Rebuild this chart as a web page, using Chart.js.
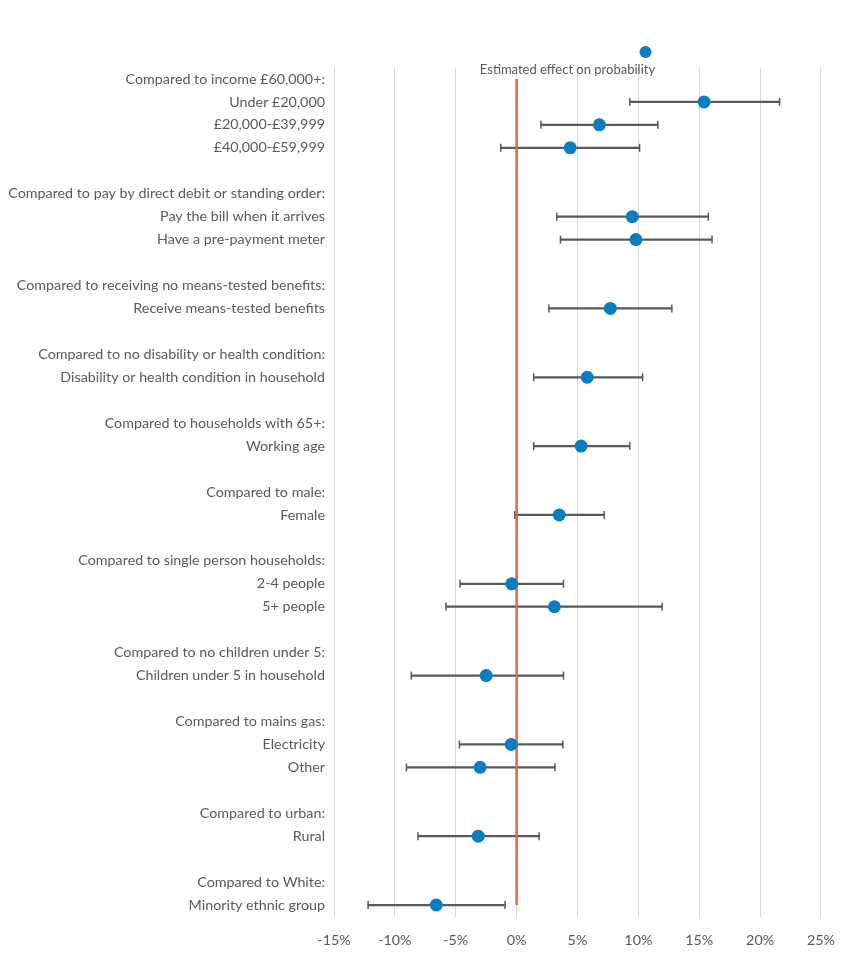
<!DOCTYPE html>
<html>
<head>
<meta charset="utf-8">
<script src="https://cdn.jsdelivr.net/npm/chart.js@4.4.1/dist/chart.umd.min.js"></script>
<style>
  html, body { margin: 0; padding: 0; background: #fff; }
  #wrap { width: 842px; height: 969px; }
</style>
</head>
<body>
<div id="wrap"><canvas id="effectChart"></canvas></div>
<script>
// rows of the chart, blank rows are spacers between groups
const categories = [
  'Compared to income £60,000+:', 'Under £20,000', '£20,000-£39,999', '£40,000-£59,999', '',
  'Compared to pay by direct debit or standing order:', 'Pay the bill when it arrives', 'Have a pre-payment meter', '',
  'Compared to receiving no means-tested benefits:', 'Receive means-tested benefits', '',
  'Compared to no disability or health condition:', 'Disability or health condition in household', '',
  'Compared to households with 65+:', 'Working age', '',
  'Compared to male:', 'Female', '',
  'Compared to single person households:', '2-4 people', '5+ people', '',
  'Compared to no children under 5:', 'Children under 5 in household', '',
  'Compared to mains gas:', 'Electricity', 'Other', '',
  'Compared to urban:', 'Rural', '',
  'Compared to White:', 'Minority ethnic group'
];

// effect in %, null on header / spacer rows
const estimates = [
  null, 15.4, 6.8, 4.4, null,
  null, 9.5, 9.8, null,
  null, 7.7, null,
  null, 5.8, null,
  null, 5.3, null,
  null, 3.5, null,
  null, -0.4, 3.1, null,
  null, -2.5, null,
  null, -0.45, -3.0, null,
  null, -3.15, null,
  null, -6.6
];
const lowerBounds = [
  null, 9.3, 2.0, -1.3, null,
  null, 3.3, 3.6, null,
  null, 2.65, null,
  null, 1.4, null,
  null, 1.4, null,
  null, -0.15, null,
  null, -4.65, -5.8, null,
  null, -8.65, null,
  null, -4.7, -9.05, null,
  null, -8.1, null,
  null, -12.2
];
const upperBounds = [
  null, 21.6, 11.6, 10.1, null,
  null, 15.75, 16.05, null,
  null, 12.75, null,
  null, 10.35, null,
  null, 9.3, null,
  null, 7.2, null,
  null, 3.85, 11.95, null,
  null, 3.85, null,
  null, 3.8, 3.15, null,
  null, 1.85, null,
  null, -0.95
];
const xTicks = { min: -15, max: 25, step: 5 };

const grey = '#595959';
const blue = '#0b7dc1';
const red = '#e8643c';
const fontFamily = 'Lato, "Open Sans", sans-serif';

// whisker lines as thin floating bars
const whiskers = categories.map((c, i) => lowerBounds[i] == null ? null : [lowerBounds[i], upperBounds[i]]);
// reference line at zero from first to last row
const zeroLine = categories.map(() => 0);

// legend in the excel style: marker above the label
const legendPlugin = {
  id: 'topLegend',
  afterDraw(chart) {
    const ctx = chart.ctx;
    ctx.save();
    ctx.fillStyle = blue;
    ctx.beginPath();
    ctx.arc(645.5, 52, 6, 0, Math.PI * 2);
    ctx.fill();
    ctx.fillStyle = grey;
    ctx.font = '13px ' + fontFamily;
    ctx.textAlign = 'center';
    ctx.textBaseline = 'middle';
    ctx.fillText('Estimated effect on probability', 567.5, 70);
    ctx.restore();
  }
};

const capStyle = {
  type: 'line',
  showLine: false,
  pointStyle: 'line',
  rotation: 90,
  pointRadius: 4,
  pointHoverRadius: 4,
  pointBorderColor: grey,
  pointBorderWidth: 1.5,
  order: 2
};

const ctx = document.getElementById('effectChart');
const chart = new Chart(ctx, {
  type: 'bar',
  data: {
    labels: categories,
    datasets: [
      {
        type: 'line',
        label: 'Estimated effect on probability',
        data: estimates,
        showLine: false,
        pointRadius: 6.5,
        pointHoverRadius: 6.5,
        pointBackgroundColor: blue,
        pointBorderColor: blue,
        pointBorderWidth: 0,
        order: 0
      },
      {
        type: 'line',
        label: 'zero',
        data: zeroLine,
        borderColor: red,
        borderWidth: 2.5,
        pointRadius: 0,
        order: 1
      },
      Object.assign({ label: 'lower', data: lowerBounds }, capStyle),
      Object.assign({ label: 'upper', data: upperBounds }, capStyle),
      {
        label: 'range',
        data: whiskers,
        backgroundColor: grey,
        barThickness: 1.6,
        order: 3
      }
    ]
  },
  options: {
    indexAxis: 'y',
    responsive: true,
    maintainAspectRatio: false,
    animation: false,
    layout: {
      padding: { top: 67.5, right: 0, bottom: 4.5, left: 0 }
    },
    plugins: {
      legend: { display: false },
      tooltip: { enabled: false }
    },
    scales: {
      y: {
        type: 'category',
        offset: true,
        grid: { display: false, drawTicks: false },
        border: { display: false },
        ticks: {
          autoSkip: false,
          color: grey,
          padding: 9,
          font: { family: fontFamily, size: 14.3 }
        },
        afterFit(scale) { scale.width = 334; }
      },
      x: {
        type: 'linear',
        min: xTicks.min,
        max: xTicks.max,
        grid: { color: '#d9d9d9', lineWidth: 1, drawTicks: false },
        border: { display: false },
        ticks: {
          stepSize: xTicks.step,
          color: grey,
          padding: 7,
          font: { family: fontFamily, size: 14.3, lineHeight: '34px' },
          callback: v => v + '%'
        }
      }
    }
  },
  plugins: [legendPlugin]
});
</script>
</body>
</html>
